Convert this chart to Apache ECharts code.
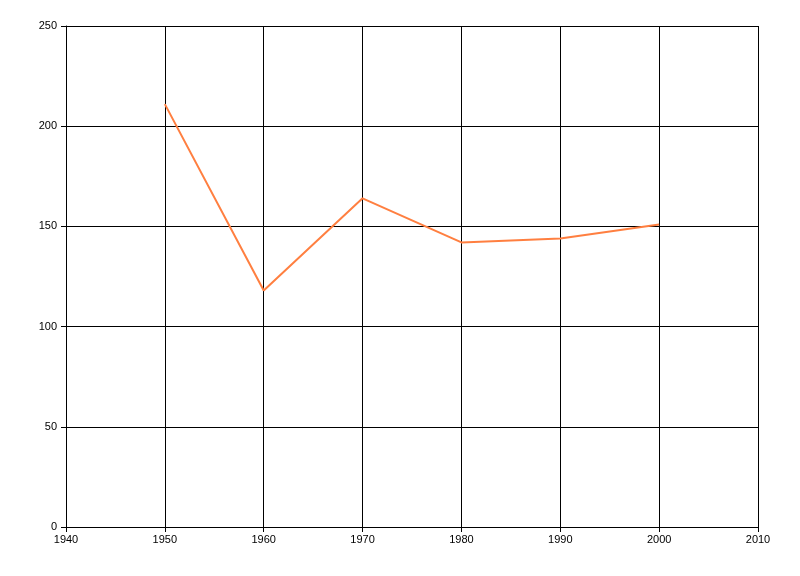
<!DOCTYPE html>
<html>
<head>
<meta charset="utf-8">
<script src="https://cdn.jsdelivr.net/npm/echarts@6/dist/echarts.min.js"></script>
<style>html,body{margin:0;padding:0;background:#fff;}#c{width:800px;height:576px;}</style>
</head>
<body>
<div id="c"></div>
<script>
var years = [1950, 1960, 1970, 1980, 1990, 2000];
var values = [211, 118, 164, 142, 144, 151];

var chart = echarts.init(document.getElementById('c'), null, {renderer: 'canvas'});
var axisFont = {fontFamily: 'Liberation Sans, Arial, sans-serif', fontSize: 11, color: '#000'};
chart.setOption({
  animation: false,
  backgroundColor: '#fff',
  grid: {left: 66, right: 42, top: 26, bottom: 49, containLabel: false},
  xAxis: {
    type: 'value', min: 1940, max: 2010, interval: 10,
    axisLine: {show: true, lineStyle: {color: '#000', width: 1}},
    axisTick: {show: true, length: 5, lineStyle: {color: '#000'}},
    axisLabel: Object.assign({margin: 7, formatter: function (v) { return String(v); }}, axisFont),
    splitLine: {show: true, lineStyle: {color: '#000', width: 1}}
  },
  yAxis: {
    type: 'value', min: 0, max: 250, interval: 50,
    axisLine: {show: true, lineStyle: {color: '#000', width: 1}},
    axisTick: {show: true, length: 5, lineStyle: {color: '#000'}},
    axisLabel: Object.assign({margin: 9}, axisFont),
    splitLine: {show: true, lineStyle: {color: '#000', width: 1}}
  },
  series: [{
    type: 'line',
    data: years.map(function (y, i) { return [y, values[i]]; }),
    showSymbol: false,
    lineStyle: {color: '#ff7f40', width: 2},
    itemStyle: {color: '#ff7f40'}
  }]
});
</script>
</body>
</html>
